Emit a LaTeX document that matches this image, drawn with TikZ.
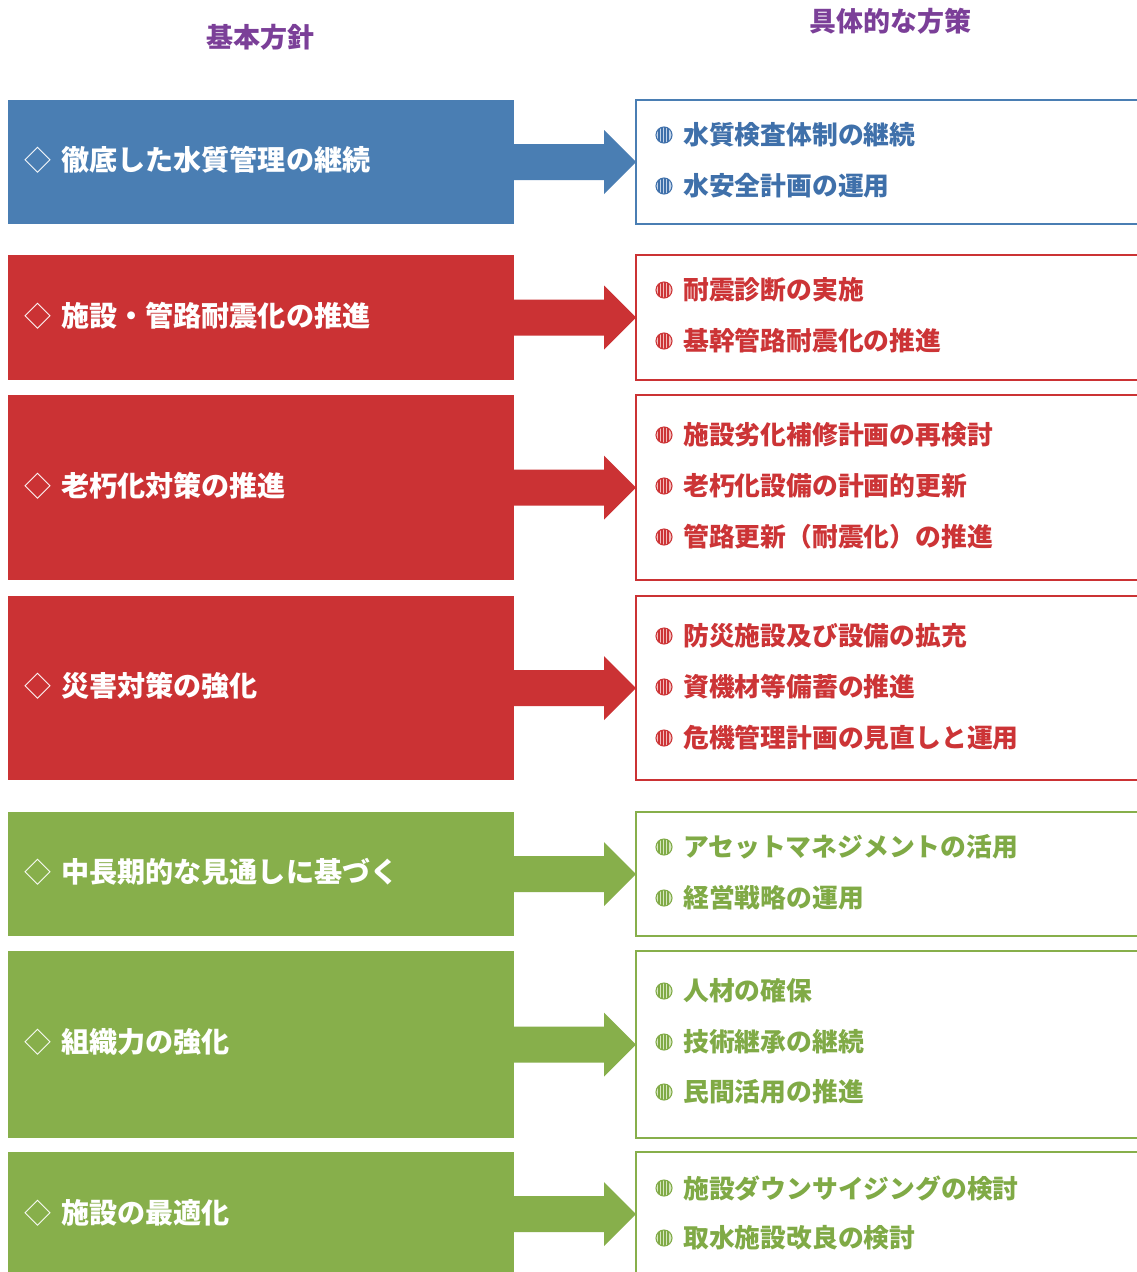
\documentclass[tikz,border=0pt]{standalone}
\usepackage{fontspec}
\setmainfont{Noto Sans CJK JP}
\usetikzlibrary{fit,calc}
\definecolor{cblue}{HTML}{4A7EB3}
\definecolor{cred}{HTML}{CB3234}
\definecolor{cgreen}{HTML}{87AF4B}
\definecolor{cpurple}{HTML}{7B3F98}
\definecolor{tblue}{HTML}{3F70AA}
\definecolor{tred}{HTML}{CC3436}
\definecolor{tgreen}{HTML}{80AA46}
\definecolor{lblue}{HTML}{C3D3E8}
\definecolor{lred}{HTML}{F2BCBC}
\definecolor{lgreen}{HTML}{D6E7C0}
\tikzset{
  lbox/.style={inner sep=0pt, outer sep=0pt},
  rbox/.style={inner sep=0pt, outer sep=0pt, line width=1.6pt},
  ltext/.style={text=white, font=\bfseries\fontsize{28.1}{30}\selectfont, inner sep=0pt, anchor=west},
  dia/.style={text=white, font=\fontsize{27}{30}\selectfont, inner sep=0pt},
  itemtext/.style={font=\bfseries\fontsize{25.8}{28}\selectfont, inner sep=0pt, anchor=west},
  head/.style={text=cpurple, font=\bfseries\fontsize{27}{30}\selectfont, inner sep=0pt},
  pics/bul/.style 2 args={code={
    \fill[#1] (0,0) circle (8.5pt);
    \begin{scope}
      \clip (0,0) circle (8pt);
      \foreach \i in {-5,-2,1,4} \draw[#2, line width=1.3pt] (\i,-9) -- (\i,9);
    \end{scope}
    \draw[#2, line width=1pt] (0,0) circle (8pt);
  }}
}
\newcommand\arrowto[3]{%
  \fill[#3] ([yshift=18pt]#1.east) -- ([xshift=-32pt,yshift=18pt]#2.west)
    -- ([xshift=-32pt,yshift=32pt]#2.west) -- (#2.west)
    -- ([xshift=-32pt,yshift=-32pt]#2.west) -- ([xshift=-32pt,yshift=-18pt]#2.west)
    -- ([yshift=-18pt]#1.east) -- cycle;}
\newcommand\rowpair[5]{% name, top, bottom, fill, border
  \node[lbox, fill=#4, fit={(8,#2) (514,#3)}] (L#1) {};
  \node[rbox, draw=#5, fit={(636,#2) (1142,#3)}] (R#1) {};
  \arrowto{L#1}{R#1}{#4}}
\newcommand\lefttext[3]{% name, y, text
  \node[dia] (D#1) at (38,#2) {◇};
  \node[ltext] (T#1) at (61,#2) {#3};}
\newcommand\itm[5]{% name, y, text color, bullet fill, text
  \pic (B#1) at (664,#2) {bul={#4}{#3}};
  \node[itemtext, text=#3] (I#1) at (683,#2) {#5};}
\begin{document}
\begin{tikzpicture}[x=1pt,y=-1pt]
\useasboundingbox[fill=white] (0,0) rectangle (1136,1272);
\node[head] (H1) at (260,37) {基本方針};
\node[head] (H2) at (890,21) {具体的な方策};

\rowpair{1}{100}{224}{cblue}{cblue}
\lefttext{1}{160}{徹底した水質管理の継続}
\itm{11}{135}{tblue}{lblue}{水質検査体制の継続}
\itm{12}{186}{tblue}{lblue}{水安全計画の運用}

\rowpair{2}{255}{380}{cred}{cred}
\lefttext{2}{316}{施設・管路耐震化の推進}
\itm{21}{290}{tred}{lred}{耐震診断の実施}
\itm{22}{341}{tred}{lred}{基幹管路耐震化の推進}

\rowpair{3}{395}{580}{cred}{cred}
\lefttext{3}{486}{老朽化対策の推進}
\itm{31}{435}{tred}{lred}{施設劣化補修計画の再検討}
\itm{32}{486}{tred}{lred}{老朽化設備の計画的更新}
\itm{33}{537}{tred}{lred}{管路更新（耐震化）の推進}

\rowpair{4}{596}{780}{cred}{cred}
\lefttext{4}{686}{災害対策の強化}
\itm{41}{636}{tred}{lred}{防災施設及び設備の拡充}
\itm{42}{687}{tred}{lred}{資機材等備蓄の推進}
\itm{43}{738}{tred}{lred}{危機管理計画の見直しと運用}

\rowpair{5}{812}{936}{cgreen}{cgreen}
\lefttext{5}{872}{中長期的な見通しに基づく}
\itm{51}{847}{tgreen}{lgreen}{アセットマネジメントの活用}
\itm{52}{898}{tgreen}{lgreen}{経営戦略の運用}

\rowpair{6}{951}{1138}{cgreen}{cgreen}
\lefttext{6}{1042}{組織力の強化}
\itm{61}{991}{tgreen}{lgreen}{人材の確保}
\itm{62}{1042}{tgreen}{lgreen}{技術継承の継続}
\itm{63}{1092}{tgreen}{lgreen}{民間活用の推進}

\rowpair{7}{1152}{1276}{cgreen}{cgreen}
\lefttext{7}{1213}{施設の最適化}
\itm{71}{1188}{tgreen}{lgreen}{施設ダウンサイジングの検討}
\itm{72}{1238}{tgreen}{lgreen}{取水施設改良の検討}
\end{tikzpicture}
\end{document}
